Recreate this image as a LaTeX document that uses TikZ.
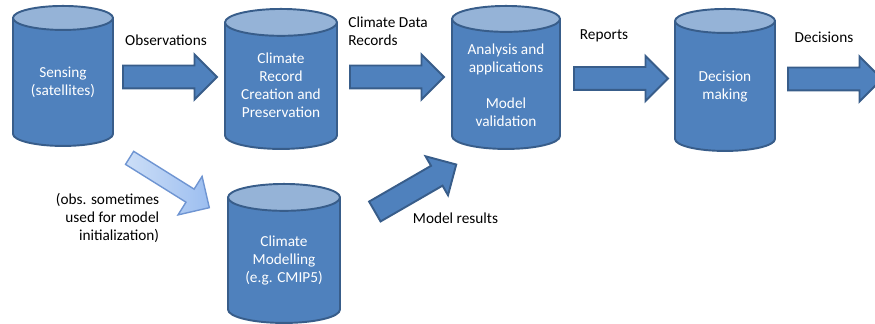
\documentclass[tikz,border=0pt]{standalone}
\usepackage{fontspec}
\setmainfont{Carlito}
\usepackage{tikz}
\usetikzlibrary{shapes, shapes.geometric, shapes.arrows, positioning, calc}

\definecolor{cylblue}{HTML}{4F81BD}
\definecolor{cyltop}{HTML}{95B3D7}
\definecolor{cylline}{HTML}{385D8A}
\definecolor{obslight}{HTML}{CCDEF7}
\definecolor{obsdark}{HTML}{9CBEF0}
\definecolor{obsline}{HTML}{6F95D2}

\begin{document}
\begin{tikzpicture}[
        cyl/.style={cylinder, shape border rotate=90, aspect=0.24, draw=cylline, line width=1.1pt,
            cylinder uses custom fill, cylinder body fill=cylblue, cylinder end fill=cyltop,
            inner ysep=0pt, inner xsep=#1, anchor=north},
        cyltext/.style={text=white, align=center},
        bigarrow/.style={single arrow, draw=cylline, line width=1.1pt, fill=cylblue, anchor=tail,
            minimum height=1.88cm, inner xsep=0pt, inner ysep=0.21cm,
            single arrow head extend=0.22cm, single arrow tip angle=90},
        lightarrow/.style={single arrow, draw=obsline, line width=0.8pt, left color=obslight, right color=obsdark,
            anchor=tail, minimum height=1.88cm, inner xsep=0pt, inner ysep=0.14cm,
            single arrow head extend=0.3cm, single arrow tip angle=90},
        every node/.style={font=\fontsize{8.7pt}{10.25pt}\selectfont},
        lbl/.style={align=center, inner sep=0pt}
    ]

    \clip (0,0) rectangle (17.5,6.48);

    % Cylinders
    \node[cyl=1.0cm, minimum height=2.8cm] (sense) at (1.26, 6.38) {};
    \node[cyl=1.12cm, minimum height=2.8cm] (record) at (5.62, 6.32) {};
    \node[cyl=1.08cm, minimum height=2.86cm] (analysis) at (10.12, 6.38) {};
    \node[cyl=1.0cm, minimum height=2.84cm] (decision) at (14.5, 6.32) {};
    \node[cyl=1.12cm, minimum height=2.78cm] (model) at (5.68, 2.82) {};

    % Cylinder texts
    \node[cyltext] (senseT) at ($(sense.north)!0.5!(sense.south)+(0,-0.12)$) {Sensing\\(satellites)};
    \node[cyltext] (recordT) at ($(record.north)!0.5!(record.south)+(0,-0.12)$) {Climate\\Record\\Creation and\\Preservation};
    \node[cyltext] (analysisT) at ($(analysis.north)!0.5!(analysis.south)+(0,-0.15)$) {Analysis and\\applications\\[10.25pt]Model\\validation};
    \node[cyltext] (decisionT) at ($(decision.north)!0.5!(decision.south)+(0,-0.14)$) {Decision\\making};
    \node[cyltext] (modelT) at ($(model.north)!0.5!(model.south)+(0,-0.15)$) {Climate\\Modelling\\(e.g. CMIP5)};

    % Block arrows
    \node[bigarrow] (obs) at (2.44, 4.94) {};
    \node[bigarrow] (cdr) at (6.98, 4.94) {};
    \node[bigarrow] (rep) at (11.46, 4.91) {};
    \node[bigarrow] (dec) at (15.74, 4.9) {};
    \node[lightarrow, rotate=-32] (init) at (2.58, 3.33) {};
    \node[bigarrow, rotate=30] (res) at (7.48, 2.24) {};

    % Labels
    \node[lbl] (obsL) at (3.32, 5.68) {Observations};
    \node[lbl, align=left, anchor=west] (cdrL) at (6.96, 5.86) {Climate Data\\Records};
    \node[lbl] (repL) at (12.08, 5.76) {Reports};
    \node[lbl] (decL) at (16.48, 5.74) {Decisions};
    \node[lbl, align=right, anchor=east] (initL) at (3.19, 2.13) {(obs. sometimes\\used for model\\initialization)};
    \node[lbl] (resL) at (9.11, 2.12) {Model results};

\end{tikzpicture}
\end{document}
